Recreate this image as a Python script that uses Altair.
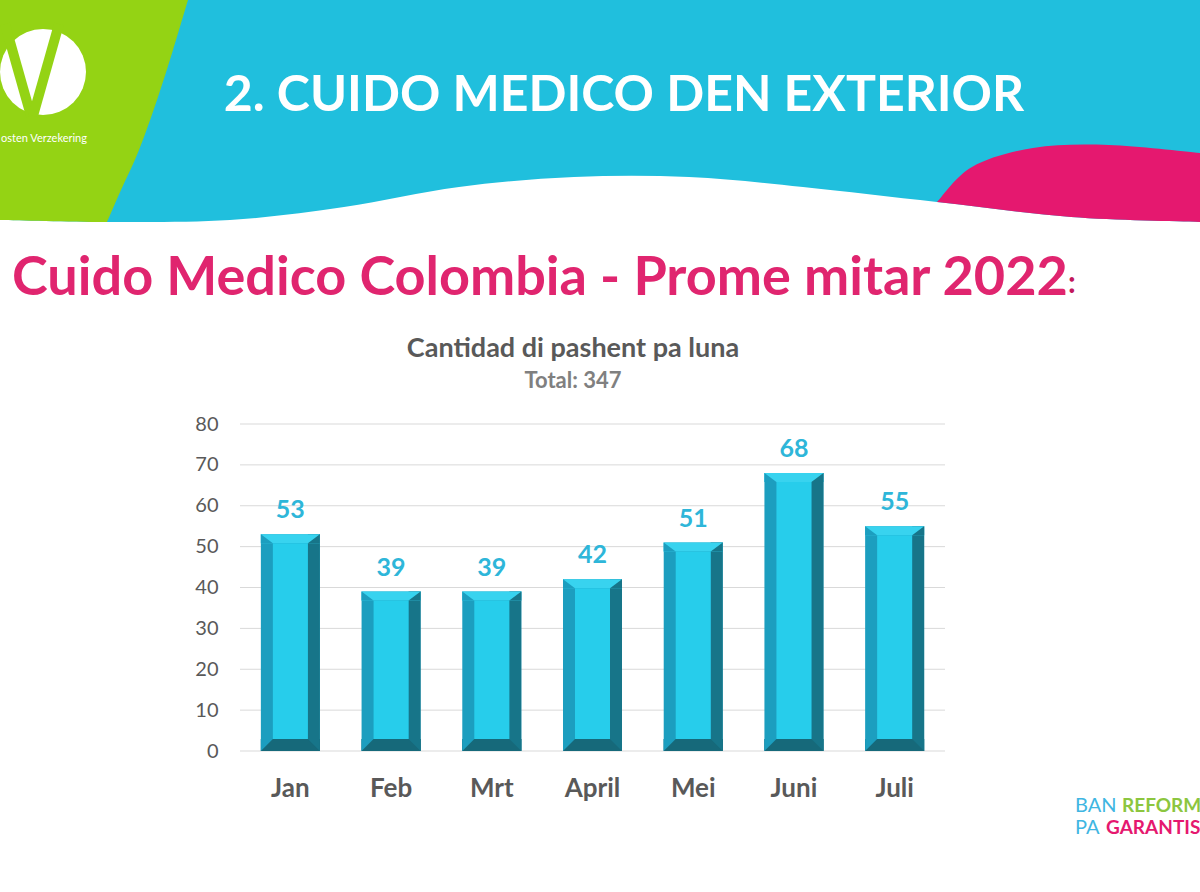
import altair as alt
import pandas as pd

# ---------------- data ----------------
months = ["Jan", "Feb", "Mrt", "April", "Mei", "Juni", "Juli"]
patients = [53, 39, 39, 42, 51, 68, 55]
y_ticks = [0, 10, 20, 30, 40, 50, 60, 70, 80]

header_title = "2. CUIDO MEDICO DEN EXTERIOR"
slide_title = "Cuido Medico Colombia - Prome mitar 2022"
chart_title = "Cantidad di pashent pa luna"
chart_subtitle = "Total: 347"

df = pd.DataFrame({"month": months, "value": patients, "zero": [0] * len(months)})
grid_df = pd.DataFrame({"v": y_ticks})

FONT = "Lato"
CYAN = "#20BFDD"
GREEN = "#94D314"
PINK = "#E5186F"

# ---------------- decorative header shapes (custom symbol paths) ----------------
CX, CY, S = 600.0, 120.0, 600.0


def u(p):
    return f"{(p[0] - CX) / S:.5f},{(p[1] - CY) / S:.5f}"


def catmull(pts):
    segs = []
    n = len(pts)
    for i in range(n - 1):
        p0 = pts[i - 1] if i > 0 else pts[i]
        p1 = pts[i]
        p2 = pts[i + 1]
        p3 = pts[i + 2] if i + 2 < n else pts[i + 1]
        c1 = (p1[0] + (p2[0] - p0[0]) / 6, p1[1] + (p2[1] - p0[1]) / 6)
        c2 = (p2[0] - (p3[0] - p1[0]) / 6, p2[1] - (p3[1] - p1[1]) / 6)
        segs.append((p1, c1, c2, p2))
    return segs


def seg_cmds(segs, reverse=False):
    out = []
    if reverse:
        for (p1, c1, c2, p2) in reversed(segs):
            out.append(f"C{u(c2)} {u(c1)} {u(p1)}")
    else:
        for (p1, c1, c2, p2) in segs:
            out.append(f"C{u(c1)} {u(c2)} {u(p2)}")
    return " ".join(out)


wave = [(0, 220), (107, 222), (230, 220), (344, 207), (459, 187), (574, 177),
        (689, 177), (803, 187), (937, 202), (1071, 217), (1200, 222)]
wave_segs = catmull(wave)

cyan_path = f"M{u((0, 0))} L{u((1200, 0))} L{u((1200, 222))} " + seg_cmds(wave_segs, reverse=True) + " Z"

green_edge = [(188, 0), (173, 50), (157, 100), (139, 150), (121, 190), (107, 222)]
green_path = (f"M{u((0, 0))} L{u((188, 0))} " + seg_cmds(catmull(green_edge))
              + " " + seg_cmds(wave_segs[:1], reverse=True) + " Z")

pink_top = [(937, 202), (972, 167), (1033, 148), (1109, 145), (1200, 153)]
pink_path = (f"M{u((937, 202))} " + seg_cmds(catmull(pink_top)) + f" L{u((1200, 222))} "
             + seg_cmds(wave_segs[8:], reverse=True) + " Z")

one = pd.DataFrame({"k": [0]})


def shape_layer(path, color):
    return alt.Chart(one).mark_point(
        shape=path, size=(2 * S) ** 2, filled=True, fill=color, opacity=1, strokeWidth=0
    ).encode(x=alt.value(CX), y=alt.value(CY))


def text_layer(txt, x, y, size, color, weight="normal", align="left", font=FONT):
    return alt.Chart(pd.DataFrame({"t": [txt]})).mark_text(
        font=font, fontSize=size, fontWeight=weight, color=color, align=align, baseline="alphabetic"
    ).encode(text="t:N", x=alt.value(x), y=alt.value(y))


def rule_layer(x1, y1, x2, y2, color, w):
    return alt.Chart(one).mark_rule(color=color, strokeWidth=w).encode(
        x=alt.value(x1), y=alt.value(y1), x2=alt.value(x2), y2=alt.value(y2)
    )


deco = [
    shape_layer(cyan_path, CYAN),
    shape_layer(green_path, GREEN),
    shape_layer(pink_path, PINK),
    alt.Chart(one).mark_point(shape="circle", size=86 ** 2, filled=True, fill="white", opacity=1,
                              strokeWidth=0).encode(x=alt.value(43), y=alt.value(72)),
    rule_layer(5, 24, 31, 116, GREEN, 10),
    rule_layer(59, 24, 33, 116, GREEN, 10),
    text_layer("osten Verzekering", 1, 142, 11, "white"),
    text_layer(header_title, 624, 111, 50, "white", weight="bold", align="center"),
    text_layer(slide_title, 12, 295, 54, "#E0256F", weight="bold"),
    text_layer(":", 1068, 293, 30, "#C2185B", weight="bold"),
    text_layer(chart_title, 573, 357, 27, "#595959", weight="bold", align="center"),
    text_layer(chart_subtitle, 573, 388, 22, "#808080", weight="bold", align="center"),
    text_layer("BAN", 1075, 812, 20, "#3FB6E2"),
    text_layer("REFORM", 1122, 812, 19, "#8CC63F", weight="bold"),
    text_layer("PA", 1075, 834, 20, "#3FB6E2"),
    text_layer("GARANTIS", 1106, 834, 19, PINK, weight="bold"),
]

# ---------------- chart scales / axes ----------------
x_axis = alt.Axis(orient="bottom", offset=-141, domain=False, ticks=False, grid=False,
                  labelPadding=24, labelFont=FONT, labelFontSize=26, labelFontWeight="bold",
                  labelColor="#595959", labelAngle=0, title=None)
y_axis = alt.Axis(orient="left", offset=-240, values=y_ticks, domain=False, ticks=False, grid=False,
                  labelPadding=22, labelFont=FONT, labelFontSize=20, labelColor="#595959", title=None)
x_scale = alt.Scale(domain=months, range=[240, 945], paddingInner=0, paddingOuter=0)
y_scale = alt.Scale(domain=[0, 80], range=[751, 424], nice=False)

X = alt.X("month:N", scale=x_scale, axis=x_axis)


def Y(field):
    return alt.Y(f"{field}:Q", scale=y_scale, axis=y_axis)


BW = 59
HALF = BW / 2
SIDE = 12
TOP = 9
BOT = 12

C_LEFT = "#1C9EBF"
C_RIGHT = "#177589"
C_BOTTOM = "#16697A"
C_TOP = "#38D3EF"
C_FRONT = "#27CDEB"

base = alt.Chart(df)

grid = alt.Chart(grid_df).mark_rule(color="#D9D9D9", strokeWidth=1).encode(
    y=Y("v"), x=alt.value(240), x2=alt.value(945)
)

bar_full = base.mark_bar(width=BW, color=C_LEFT).encode(x=X, y=Y("value"), y2=alt.Y2("zero"))
bar_right = base.mark_bar(width=SIDE, xOffset=HALF - SIDE / 2, color=C_RIGHT).encode(
    x=X, y=Y("value"), y2=alt.Y2("zero"))
bar_top = base.mark_bar(width=BW, color=C_TOP, y2Offset=TOP).encode(
    x=X, y=Y("value"), y2=alt.Y2("value"))
bar_bottom = base.mark_bar(width=BW, color=C_BOTTOM, yOffset=-BOT).encode(
    x=X, y=Y("zero"), y2=alt.Y2("zero"))


def tri(path, xoff, field, color):
    return base.mark_point(shape=path, size=(2 * SIDE) ** 2, filled=True, fill=color, opacity=1,
                           strokeWidth=0, xOffset=xoff).encode(x=X, y=Y(field))


tri_tl = tri(f"M0,0 L0,{TOP / SIDE} L1,{TOP / SIDE} Z", -HALF, "value", C_LEFT)
tri_tr = tri(f"M0,0 L0,{TOP / SIDE} L-1,{TOP / SIDE} Z", HALF, "value", C_RIGHT)
tri_bl = tri("M0,0 L0,-1 L1,-1 Z", -HALF, "zero", C_LEFT)
tri_br = tri("M0,0 L0,-1 L-1,-1 Z", HALF, "zero", C_RIGHT)

bar_front = base.mark_bar(width=BW - 2 * SIDE, color=C_FRONT, yOffset=TOP, y2Offset=-BOT).encode(
    x=X, y=Y("value"), y2=alt.Y2("zero"))

labels = base.mark_text(font=FONT, fontSize=25, fontWeight="bold", color="#2EB6D9",
                        baseline="alphabetic", dy=-16).encode(x=X, y=Y("value"), text="value:Q")

chart = alt.layer(
    *deco, grid, bar_full, bar_right, bar_top, bar_bottom, tri_tl, tri_tr, tri_bl, tri_br,
    bar_front, labels
).properties(
    width=1200, height=892, padding=0, background="white",
    autosize=alt.AutoSizeParams(type="none"),
).configure_view(stroke=None)

chart.save("out.html", embed_options={"renderer": "svg", "actions": False})
